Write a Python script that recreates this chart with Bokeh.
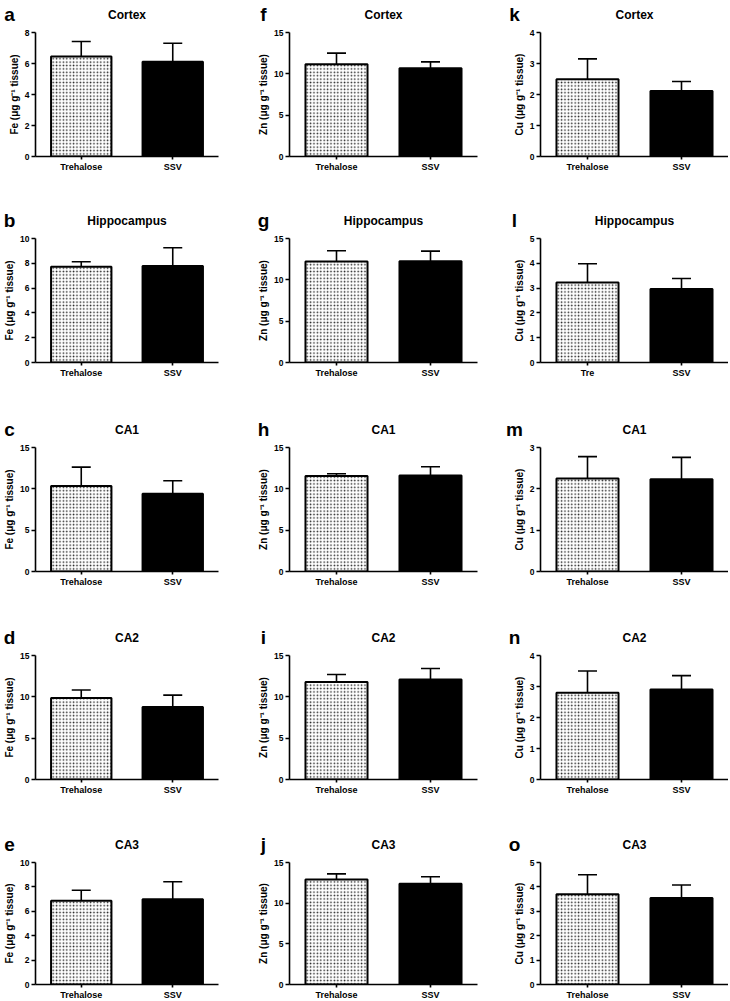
from bokeh.plotting import figure
from bokeh.models import (Range1d, FactorRange, FixedTicker, Label, Whisker,
                          TeeHead, ColumnDataSource)
from bokeh.layouts import column, row
from bokeh.embed import file_html
from bokeh.resources import INLINE

# ---------------- data ----------------
regions = ["Cortex", "Hippocampus", "CA1", "CA2", "CA3"]
groups = ["Trehalose", "SSV"]
groups_short = ["Tre", "SSV"]          # x labels used in panel l

fe_letters = ["a", "b", "c", "d", "e"]
zn_letters = ["f", "g", "h", "i", "j"]
cu_letters = ["k", "l", "m", "n", "o"]

fe_tre_mean = [6.45, 7.73, 10.33, 9.85, 6.87]
fe_tre_sd   = [0.97, 0.40, 2.30, 0.97, 0.86]
fe_ssv_mean = [6.12, 7.79, 9.41, 8.77, 6.98]
fe_ssv_sd   = [1.19, 1.46, 1.57, 1.44, 1.44]

zn_tre_mean = [11.17, 12.22, 11.54, 11.78, 12.90]
zn_tre_sd   = [1.33, 1.29, 0.28, 0.92, 0.70]
zn_ssv_mean = [10.69, 12.26, 11.62, 12.10, 12.40]
zn_ssv_sd   = [0.76, 1.21, 1.05, 1.33, 0.85]

cu_tre_mean = [2.49, 3.23, 2.25, 2.80, 3.70]
cu_tre_sd   = [0.66, 0.75, 0.53, 0.70, 0.80]
cu_ssv_mean = [2.11, 2.96, 2.23, 2.90, 3.55]
cu_ssv_sd   = [0.31, 0.43, 0.53, 0.45, 0.53]

fe_ymax = [8, 10, 15, 15, 10]
fe_step = [2, 2, 5, 5, 2]
zn_ymax = [15, 15, 15, 15, 15]
zn_step = [5, 5, 5, 5, 5]
cu_ymax = [4, 5, 3, 4, 5]
cu_step = [1, 1, 1, 1, 1]

fe_label = "Fe (\u03bcg g\u207b\u00b9 tissue)"
zn_label = "Zn (\u03bcg g\u207b\u00b9 tissue)"
cu_label = "Cu (\u03bcg g\u207b\u00b9 tissue)"

# ---------------- layout / style ----------------
FONT = "Liberation Sans"
FRAME_W = [183, 188, 188]
FRAME_H = [124, 124, 124, 124, 122]
BORDER_LEFT = [35, 35, 35]
BORDER_RIGHT = [36, 28, 0]
BORDER_TOP = 6
BORDER_BOTTOM = [50, 53, 52, 51, 16]
HEADER_H = 26
TOTAL_W = sum(BORDER_LEFT) + sum(FRAME_W) + sum(BORDER_RIGHT)
LETTER_Y = 12.5   # label anchor above the header strip's bottom edge
TITLE_Y = 12.0


def make_header(letters, titles):
    """Strip above a row of panels holding the panel letters and region titles."""
    h = figure(width=TOTAL_W, height=HEADER_H, x_range=Range1d(0, TOTAL_W),
               y_range=Range1d(0, HEADER_H), min_border=0,
               x_axis_type=None, y_axis_type=None,
               output_backend="svg", toolbar_location=None,
               outline_line_color=None, background_fill_color="white",
               border_fill_color="white")
    h.xgrid.visible = False
    h.ygrid.visible = False
    x0 = 0
    for ci in range(3):
        frame_left = x0 + BORDER_LEFT[ci]
        h.add_layout(Label(x=frame_left - 26, y=LETTER_Y,
                           x_units="screen", y_units="screen",
                           text=letters[ci], text_align="center",
                           text_baseline="alphabetic", text_font=FONT,
                           text_font_style="bold", text_font_size="19px",
                           text_color="black"))
        h.add_layout(Label(x=frame_left + FRAME_W[ci] / 2, y=TITLE_Y,
                           x_units="screen", y_units="screen",
                           text=titles[ci], text_align="center",
                           text_baseline="alphabetic", text_font=FONT,
                           text_font_style="bold", text_font_size="12px",
                           text_color="black"))
        x0 += BORDER_LEFT[ci] + FRAME_W[ci] + BORDER_RIGHT[ci]
    return h


def make_panel(ci, ri, ylab, tre_m, tre_s, ssv_m, ssv_s, ymax, step, cats):
    fw, fh = FRAME_W[ci], FRAME_H[ri]
    p = figure(x_range=FactorRange(factors=cats, range_padding=0),
               y_range=Range1d(0, ymax),
               frame_width=fw, frame_height=fh,
               min_border_left=BORDER_LEFT[ci], min_border_right=BORDER_RIGHT[ci],
               min_border_top=BORDER_TOP, min_border_bottom=BORDER_BOTTOM[ri],
               output_backend="svg", toolbar_location=None,
               outline_line_color=None, background_fill_color="white",
               border_fill_color="white")
    p.xgrid.visible = False
    p.ygrid.visible = False

    src = ColumnDataSource(dict(
        x=cats,
        mean=[tre_m, ssv_m],
        top=[tre_m + tre_s, ssv_m + ssv_s],
        fill=["white", "black"],
        hatch=["dot", " "],
    ))
    p.vbar(x="x", top="mean", bottom=0, width=0.66, source=src,
           fill_color="fill", line_color="black", line_width=2,
           hatch_pattern="hatch", hatch_color="black", hatch_scale=3.4,
           hatch_weight=1.0, hatch_alpha=0.85)

    w = Whisker(source=src, base="x", lower="mean", upper="top",
                dimension="height", line_color="black", line_width=1.6,
                upper_head=TeeHead(size=19, line_width=1.6, line_color="black"),
                lower_head=None, level="overlay")
    p.add_layout(w)

    ticks = []
    t = 0
    while t <= ymax + 1e-9:
        ticks.append(t)
        t += step
    p.yaxis.ticker = FixedTicker(ticks=ticks)
    for ax in (p.xaxis[0], p.yaxis[0]):
        ax.axis_line_width = 1.6
        ax.axis_line_color = "black"
        ax.major_tick_line_width = 1.6
        ax.major_tick_line_color = "black"
        ax.major_tick_in = 0
        ax.minor_tick_line_color = None
        ax.major_label_text_font = FONT
        ax.major_label_text_font_style = "bold"
        ax.major_label_text_color = "black"
    p.xaxis.major_label_text_font_size = "9px"
    p.xaxis.major_tick_out = 3
    p.xaxis.major_label_standoff = 2
    p.yaxis.major_label_text_font_size = "8.5px"
    p.yaxis.major_tick_out = 4
    p.yaxis.major_label_standoff = 2
    p.yaxis.axis_label = ylab
    p.yaxis.axis_label_text_font = FONT
    p.yaxis.axis_label_text_font_style = "bold"
    p.yaxis.axis_label_text_font_size = "10px"
    p.yaxis.axis_label_text_color = "black"
    p.yaxis.axis_label_standoff = 2
    return p


items = []
for ri in range(5):
    items.append(make_header([fe_letters[ri], zn_letters[ri], cu_letters[ri]],
                             [regions[ri]] * 3))
    panels = [
        make_panel(0, ri, fe_label,
                   fe_tre_mean[ri], fe_tre_sd[ri], fe_ssv_mean[ri], fe_ssv_sd[ri],
                   fe_ymax[ri], fe_step[ri], groups),
        make_panel(1, ri, zn_label,
                   zn_tre_mean[ri], zn_tre_sd[ri], zn_ssv_mean[ri], zn_ssv_sd[ri],
                   zn_ymax[ri], zn_step[ri], groups),
        make_panel(2, ri, cu_label,
                   cu_tre_mean[ri], cu_tre_sd[ri], cu_ssv_mean[ri], cu_ssv_sd[ri],
                   cu_ymax[ri], cu_step[ri], groups_short if ri == 1 else groups),
    ]
    items.append(row(*panels, spacing=0))

layout = column(*items, spacing=0)

open("out.html", "w").write(file_html(layout, INLINE))
